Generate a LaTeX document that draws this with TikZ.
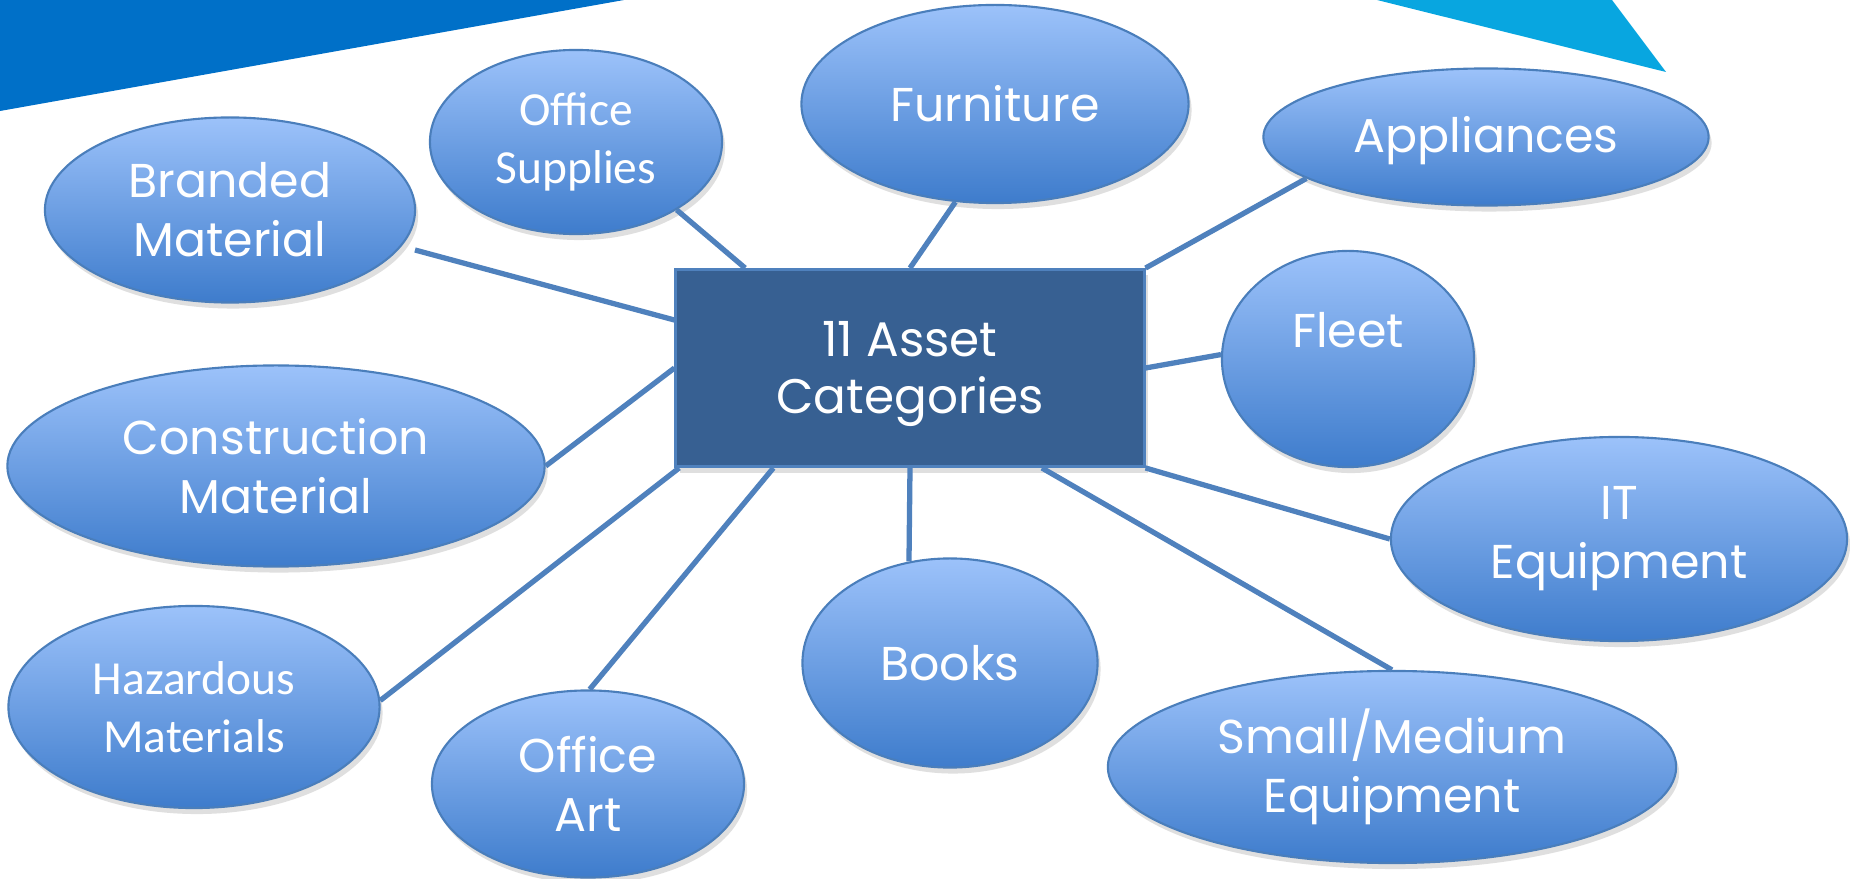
\documentclass[tikz,border=0pt]{standalone}
\usepackage{fontspec}
\setmainfont{Poppins}
\newfontfamily\calib{Carlito}
\usetikzlibrary{shapes.geometric,shadows,calc}
\definecolor{ellTop}{RGB}{156,194,250}
\definecolor{ellBot}{RGB}{62,124,204}
\definecolor{ellEdge}{RGB}{74,126,187}
\definecolor{hubFill}{RGB}{55,96,146}
\definecolor{hubEdge}{RGB}{79,129,189}
\definecolor{linkCol}{RGB}{79,129,189}
\definecolor{bannerBlue}{RGB}{0,112,200}
\definecolor{bannerCyan}{RGB}{8,166,224}
\begin{document}
\begin{tikzpicture}[x=0.01cm,y=-0.01cm,
    astHub/.style={rectangle,fill=hubFill,draw=hubEdge,line width=0.8pt,
      minimum width=4.68cm,minimum height=1.97cm,inner sep=0pt,
      drop shadow={opacity=0.25,shadow xshift=0.04cm,shadow yshift=-0.06cm}},
    astHubText/.style={align=center,text=white,font=\fontsize{13.8}{16.2}\selectfont},
    astItem/.style={ellipse,top color=ellTop,bottom color=ellBot,draw=ellEdge,
      line width=0.6pt,inner sep=0pt,align=center,text=white,
      font=\fontsize{13.5}{16.8}\selectfont,
      drop shadow={opacity=0.25,shadow xshift=0.03cm,shadow yshift=-0.06cm}},
    astCalib/.style={font=\calib\fontsize{13.5}{16.4}\selectfont},
    astNote/.style={text=white,font=\fontsize{13.5}{16.8}\selectfont},
    astLink/.style={draw=linkCol,line width=1.5pt},
]
\useasboundingbox (0,0) rectangle (1850,879);
\fill[white] (0,0) rectangle (1850,879);
% Banners
\fill[bannerBlue] (0,0) -- (624,0) -- (0,111) -- cycle;
\fill[bannerCyan] (1377,0) -- (1612,0) -- (1666,72) -- cycle;
% Hub
\node[astHub,label={[astHubText,yshift=-0.06cm]center:{11 Asset\\Categories}}] (hub) at (910,368) {};
% Categories
\node[astItem,minimum width=3.70cm,minimum height=1.85cm] (brand) at (230,210) {Branded\\Material};
\node[astItem,astCalib,minimum width=2.92cm,minimum height=1.84cm] (supplies) at (576,142) {Office\\Supplies};
\node[astItem,minimum width=3.87cm,minimum height=1.98cm] (furn) at (995,104) {Furniture};
\node[astItem,minimum width=4.45cm,minimum height=1.37cm,
  label={[astNote,yshift=-0.04cm]center:Appliances}] (appl) at (1486,137) {};
\node[astItem,minimum width=2.52cm,minimum height=2.16cm,
  label={[astNote,yshift=0.29cm]center:Fleet}] (fleet) at (1348,359) {};
\node[astItem,minimum width=4.56cm,minimum height=2.04cm] (itequip) at (1619,539) {IT\\Equipment};
\node[astItem,minimum width=5.68cm,minimum height=1.92cm] (smallmed) at (1392,767) {Small/Medium\\Equipment};
\node[astItem,minimum width=2.95cm,minimum height=2.09cm] (books) at (950,663) {Books};
\node[astItem,minimum width=3.12cm,minimum height=1.87cm] (art) at (588,784) {Office\\Art};
\node[astItem,astCalib,minimum width=3.71cm,minimum height=2.02cm] (hazard) at (194,707) {Hazardous\\Materials};
\node[astItem,minimum width=5.37cm,minimum height=2.01cm] (constr) at (276,466) {Construction\\Material};
% Links
\coordinate (brandEnd) at (415,250);
\draw[astLink] ($(hub.north west)!0.26!(hub.south west)$) -- (brandEnd);
\draw[astLink] ($(hub.north west)!0.15!(hub.north east)$) -- (supplies.-34);
\draw[astLink] (hub.north) -- (furn.-112);
\draw[astLink] (hub.north east) -- (appl.193);
\draw[astLink] (hub.east) -- (fleet.178);
\draw[astLink] (hub.south east) -- (itequip.180);
\draw[astLink] ($(hub.south west)!0.78!(hub.south east)$) -- (smallmed.90);
\draw[astLink] (hub.south) -- (books.112);
\draw[astLink] ($(hub.south west)!0.21!(hub.south east)$) -- (art.89);
\draw[astLink] ($(hub.south west)!0.01!(hub.south east)$) -- (hazard.2);
\draw[astLink] (hub.west) -- (constr.0);
\end{tikzpicture}
\end{document}
